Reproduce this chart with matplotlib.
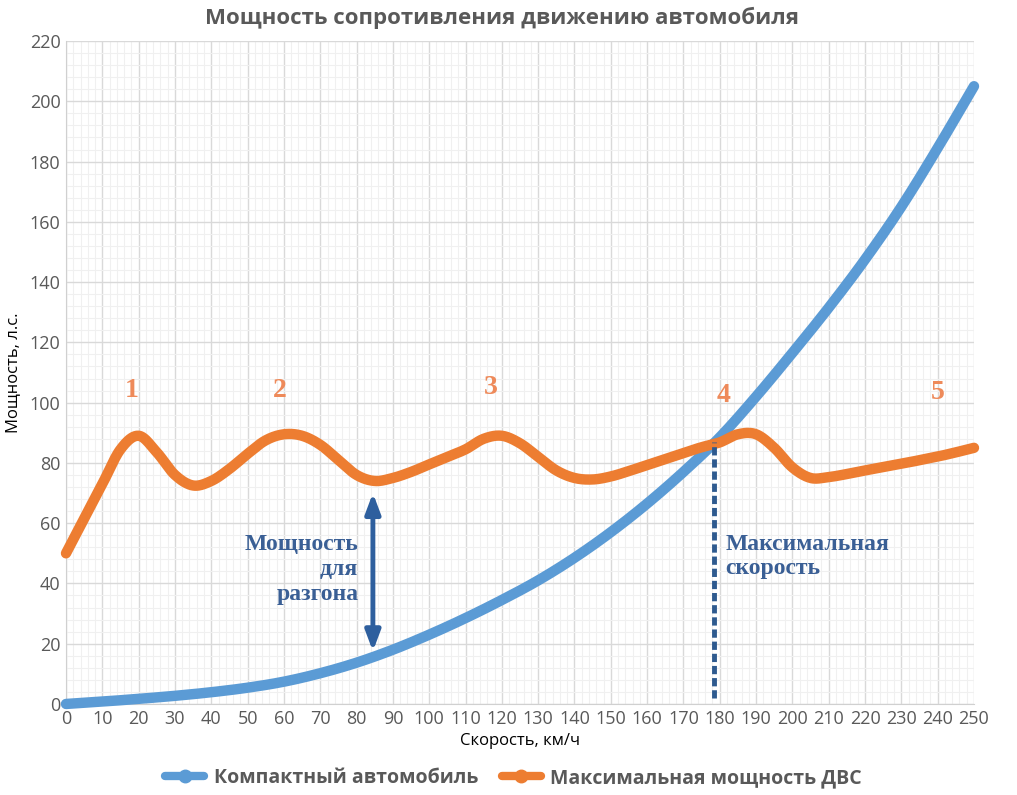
"""Мощность сопротивления движению автомобиля vs максимальная мощность ДВС."""
import numpy as np
import matplotlib
matplotlib.use("Agg")
import matplotlib.pyplot as plt
from matplotlib.ticker import MultipleLocator

plt.rcParams["font.family"] = ["Open Sans", "DejaVu Sans"]

# скорость, км/ч
SKOROST_SOPR = [0, 10, 20, 30, 40, 50, 60, 70, 80, 90, 100, 110, 120, 130,
                140, 150, 160, 170, 180, 190, 200, 210, 220, 230, 240, 250]
# мощность сопротивления компактного автомобиля, л.с.
MOSHCH_SOPR = [0, 0.8, 1.7, 2.7, 3.9, 5.4, 7.4, 10.2, 13.7, 18, 23, 28.5, 34.5,
               41, 48.5, 57, 66.5, 77, 88.5, 102, 116.5, 131.5, 147.5, 165,
               184.5, 205]

SKOROST_DVS = list(range(0, 251, 5))
MOSHCH_DVS = [50, 61.5, 73, 84.5, 89, 83.5, 76, 72.5, 74, 78, 83, 87.5, 89.5,
              89, 86, 81, 76, 74, 75, 77, 79.5, 82, 84.5, 88, 89, 86.5, 82,
              77.5, 75, 74.5, 75.5, 77.3, 79.3, 81.3, 83.3, 85.2, 86.8, 89.5,
              89.5, 85, 78.5, 75, 75.3, 76.3, 77.5, 78.6, 79.7, 80.9, 82.1,
              83.5, 85]

METKI = ["1", "2", "3", "4", "5"]
METKI_X = [18, 59, 117, 181, 240]
METKI_Y = [104, 104, 105, 102.5, 103.5]

V_MAX = 178.5
STRELKA_X = 84.5
STRELKA_Y = (17.5, 70)

SINIY = "#5b9bd5"
ORANZH = "#ed7d31"
TEMNO_SINIY = "#3a5f95"
SERYY = "#595959"


def sgladit(x, y, n=20):
    """Сглаживание Катмулла-Рома, как у сглаженной линии в Excel."""
    x = np.asarray(x, float)
    y = np.asarray(y, float)
    px = np.concatenate([[2 * x[0] - x[1]], x, [2 * x[-1] - x[-2]]])
    py = np.concatenate([[2 * y[0] - y[1]], y, [2 * y[-1] - y[-2]]])
    t = np.linspace(0, 1, n, endpoint=False)
    xs, ys = [], []
    for i in range(1, len(px) - 2):
        for p, out in ((px, xs), (py, ys)):
            p0, p1, p2, p3 = p[i - 1:i + 3]
            out.append(0.5 * (2 * p1 + (-p0 + p2) * t
                              + (2 * p0 - 5 * p1 + 4 * p2 - p3) * t ** 2
                              + (-p0 + 3 * p1 - 3 * p2 + p3) * t ** 3))
    xs = np.concatenate(xs + [[x[-1]]])
    ys = np.concatenate(ys + [[y[-1]]])
    return xs, ys


fig = plt.figure(figsize=(10.17, 7.95), dpi=100)
ax = fig.add_axes([0.0649, 0.1145, 0.8928, 0.8339])

ax.set_xlim(0, 250)
ax.set_ylim(0, 220)
ax.xaxis.set_major_locator(MultipleLocator(10))
ax.yaxis.set_major_locator(MultipleLocator(20))
ax.xaxis.set_minor_locator(MultipleLocator(2))
ax.yaxis.set_minor_locator(MultipleLocator(4))
ax.grid(which="major", color="#d9d9d9", lw=1.0)
ax.grid(which="minor", color="#f0f0f0", lw=0.8)
ax.set_axisbelow(True)
for s in ("top", "right"):
    ax.spines[s].set_visible(False)
for s in ("left", "bottom"):
    ax.spines[s].set_color("#d0d0d0")
ax.tick_params(which="both", length=0, colors=SERYY, labelsize=13, pad=4)

xs, ys = sgladit(SKOROST_SOPR, MOSHCH_SOPR)
ax.plot(xs, ys, color=SINIY, lw=7.5, solid_capstyle="round",
        label="Компактный автомобиль", clip_on=False, zorder=3)
xs, ys = sgladit(SKOROST_DVS, MOSHCH_DVS)
ax.plot(xs, ys, color=ORANZH, lw=7.5, solid_capstyle="round",
        label="Максимальная мощность ДВС", clip_on=False, zorder=3)

for t, x, y in zip(METKI, METKI_X, METKI_Y):
    ax.text(x, y, t, color="#ee8a5a", fontsize=20, fontweight="bold",
            family="Liberation Serif", ha="center", va="center")

ax.annotate("", xy=(STRELKA_X, STRELKA_Y[0]), xytext=(STRELKA_X, STRELKA_Y[1]),
            arrowprops=dict(arrowstyle="<|-|>,head_length=1.2,head_width=0.45",
                            color="#2e5f9e", lw=3.5, shrinkA=0, shrinkB=0))
ax.text(80.5, 56.5, "Мощность\nдля\nразгона", color=TEMNO_SINIY, fontsize=17,
        fontweight="bold", family="Liberation Serif", ha="right", va="top",
        linespacing=1.25)

ax.plot([V_MAX, V_MAX], [2, 87], color="#2e5a8f", lw=3.5,
        linestyle=(0, (1.7, 0.8)), zorder=4)
ax.text(181.5, 56.5, "Максимальная\nскорость", color=TEMNO_SINIY, fontsize=17,
        fontweight="bold", family="Liberation Serif", ha="left", va="top",
        linespacing=1.2)

fig.text(0.494, 0.977, "Мощность сопротивления движению автомобиля",
         ha="center", va="center", fontsize=16, fontweight="bold", color=SERYY)
ax.set_xlabel("Скорость, км/ч", fontsize=12, color="black", labelpad=4)
ax.set_ylabel("Мощность, л.с.", fontsize=12, color="black", labelpad=6)

leg = fig.legend(loc="center", bbox_to_anchor=(0.505, 0.021), ncol=2,
                 frameon=False, fontsize=14, handlelength=2.0,
                 columnspacing=1.2, handletextpad=0.5)
for h in leg.legend_handles:
    h.set_marker("o")
    h.set_markersize(9)
    h.set_linewidth(6)
for txt in leg.get_texts():
    txt.set_color(SERYY)
    txt.set_fontweight("bold")

fig.savefig("out.png", dpi=100)
